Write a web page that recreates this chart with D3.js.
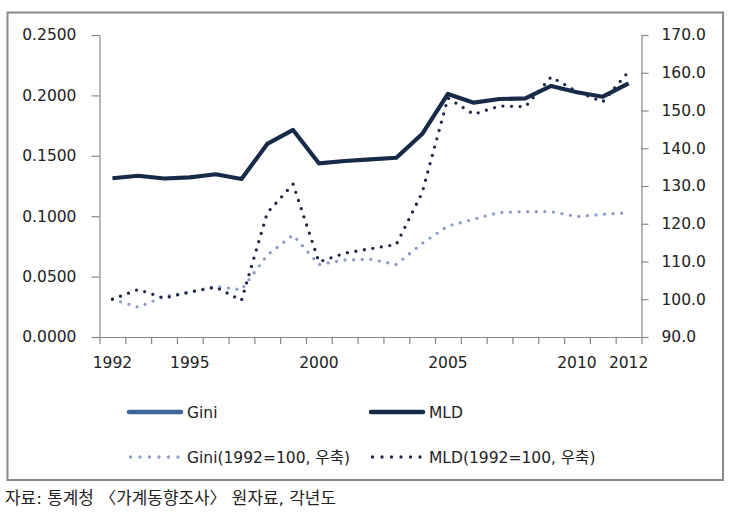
<!DOCTYPE html>
<html>
<head>
<meta charset="utf-8">
<script src="https://cdn.jsdelivr.net/npm/d3@7"></script>
<style>
  html, body { margin: 0; padding: 0; background: #fff; }
  svg { display: block; }
  text { font-family: "DejaVu Sans", "Noto Sans CJK KR", sans-serif; fill: #222; }
</style>
</head>
<body>
<svg id="chart" width="737" height="523"></svg>
<script>
// ---- data ----
const years = [1992,1993,1994,1995,1996,1997,1998,1999,2000,2001,2002,2003,2004,2005,2006,2007,2008,2009,2010,2011,2012];
// MLD (left axis)
const mld = [0.1314,0.1335,0.1312,0.1322,0.1347,0.1308,0.1598,0.1714,0.1438,0.1457,0.1471,0.1484,0.1680,0.2012,0.1940,0.1970,0.1976,0.2078,0.2026,0.1989,0.2100];
// Gini index, 1992=100 (right axis)
const giniIdx = [100.0,97.9,100.7,101.9,103.4,102.5,111.7,117.0,109.2,110.4,110.6,109.2,114.8,119.4,121.2,123.0,123.2,123.2,121.9,122.5,122.9];
// MLD index, 1992=100 (right axis)
const mldIdx = [100.0,102.6,100.3,101.9,103.2,99.7,122.9,130.5,109.9,112.2,113.4,114.5,128.2,153.3,149.0,151.2,151.0,158.9,155.0,152.3,160.3];
const xTickLabels = ["1992","1995","2000","2005","2010","2012"];
const leftTicks = [0,0.05,0.10,0.15,0.20,0.25];
const rightTicks = [90,100,110,120,130,140,150,160,170];
const legendLabels = ["Gini","MLD","Gini(1992=100, 우축)","MLD(1992=100, 우축)"];
const sourceText = "자료: 통계청 〈가계동향조사〉 원자료, 각년도";

// ---- layout ----
const svg = d3.select("#chart");
const L = 99.5, R = 641.5, T = 35, B = 337;
const axisColor = "#878787";
const cMLD = "#172a48", cGini = "#3d6696", cGiniIdx = "#8b9ccc", cMLDIdx = "#1b2744";

// outer frame
svg.append("rect").attr("x", 7.5).attr("y", 12.5).attr("width", 715.5).attr("height", 467.5)
  .attr("fill", "none").attr("stroke", "#8a8a8a").attr("stroke-width", 2);

const x = d3.scaleBand().domain(years).range([L, R]).paddingInner(0).paddingOuter(0);
const xc = d => x(d) + x.bandwidth() / 2;
const yL = d3.scaleLinear().domain([0, 0.25]).range([B, T]);
const yR = d3.scaleLinear().domain([90, 170]).range([B, T]);

// left axis
const gL = svg.append("g").attr("transform", `translate(${L},0)`)
  .call(d3.axisLeft(yL).tickValues(leftTicks).tickFormat(d3.format(".4f")).tickSize(8).tickSizeOuter(0).tickPadding(15));
// right axis
const gR = svg.append("g").attr("transform", `translate(${R},0)`)
  .call(d3.axisRight(yR).tickValues(rightTicks).tickFormat(d3.format(".1f")).tickSize(7).tickSizeOuter(0).tickPadding(13));
// x axis: ticks at category boundaries
const xb = d3.scaleLinear().domain([0, years.length]).range([L, R]);
const gX = svg.append("g").attr("transform", `translate(0,${B})`)
  .call(d3.axisBottom(xb).tickValues(d3.range(years.length + 1)).tickFormat("").tickSize(7).tickSizeOuter(0));
// x labels
const gXL = svg.append("g").attr("transform", `translate(0,${B})`)
  .call(d3.axisBottom(x).tickValues(xTickLabels.map(Number)).tickFormat(d => String(d)).tickSize(0).tickPadding(20));
gXL.select(".domain").remove();

[gL, gR, gX].forEach(g => {
  g.selectAll(".domain, line").attr("stroke", axisColor).attr("stroke-width", 1.2);
});
[gL, gR, gXL].forEach(g => {
  g.selectAll("text").attr("font-size", "15.5px").attr("fill", "#222")
    .attr("font-family", "'DejaVu Sans', sans-serif");
});

// lines
const lineL = d3.line().x((d, i) => xc(years[i])).y(d => yL(d));
const lineR = d3.line().x((d, i) => xc(years[i])).y(d => yR(d));

svg.append("path").datum(giniIdx).attr("d", lineR)
  .attr("fill", "none").attr("stroke", cGiniIdx).attr("stroke-width", 3.3)
  .attr("stroke-linecap", "round").attr("stroke-dasharray", "0 8.6");
svg.append("path").datum(mldIdx).attr("d", lineR)
  .attr("fill", "none").attr("stroke", cMLDIdx).attr("stroke-width", 3.3)
  .attr("stroke-linecap", "round").attr("stroke-dasharray", "0 8.6");
svg.append("path").datum(mld).attr("d", lineL)
  .attr("fill", "none").attr("stroke", cMLD).attr("stroke-width", 4.2)
  .attr("stroke-linejoin", "round");

// legend
const legend = [
  {label: legendLabels[0], color: cGini, dotted: false, x: 129, y: 412},
  {label: legendLabels[1], color: cMLD, dotted: false, x: 371, y: 412},
  {label: legendLabels[2], color: cGiniIdx, dotted: true, x: 129, y: 457},
  {label: legendLabels[3], color: cMLDIdx, dotted: true, x: 371, y: 457}
];
const lg = svg.append("g").selectAll("g").data(legend).join("g")
  .attr("transform", d => `translate(${d.x},${d.y})`);
lg.append("line").attr("x1", d => d.dotted ? 1.5 : 0).attr("x2", d => d.dotted ? 50 : 52)
  .attr("y1", 0).attr("y2", 0)
  .attr("stroke", d => d.color).attr("stroke-width", d => d.dotted ? 3.3 : 4.5)
  .attr("stroke-linecap", "round")
  .attr("stroke-dasharray", d => d.dotted ? "0 9.5" : null);
lg.append("text").attr("x", 58).attr("y", 0).attr("dy", "0.36em")
  .attr("font-size", "15.5px").text(d => d.label);

// source note
svg.append("text").attr("x", 5).attr("y", 504)
  .attr("font-family", "'Noto Sans CJK KR', sans-serif").attr("font-size", "16.5px")
  .attr("textLength", 331).attr("lengthAdjust", "spacingAndGlyphs")
  .attr("fill", "#111").text(sourceText);
</script>
</body>
</html>
